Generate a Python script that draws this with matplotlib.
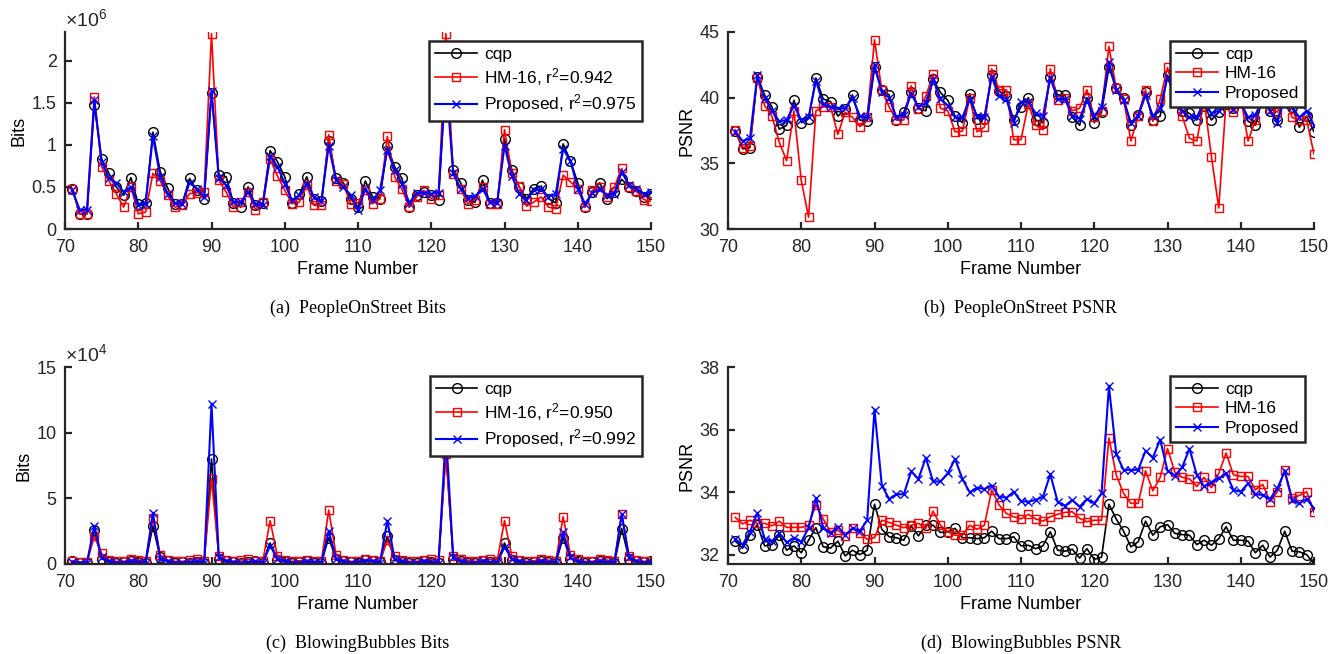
import numpy as np
import matplotlib
matplotlib.use('Agg')
import matplotlib.pyplot as plt

# ── Data (frames 71..150) ─────────────────────────────────────────
frames = np.arange(71, 151)

# PeopleOnStreet bits (x1e6)
pos_bits_cqp = [0.48, 0.18, 0.18, 1.47, 0.83, 0.66, 0.50, 0.40, 0.61, 0.30,
                0.31, 1.15, 0.68, 0.49, 0.30, 0.30, 0.60, 0.46, 0.36, 1.62,
                0.64, 0.62, 0.31, 0.26, 0.50, 0.28, 0.31, 0.93, 0.80, 0.62,
                0.31, 0.41, 0.62, 0.36, 0.33, 1.05, 0.60, 0.55, 0.36, 0.26,
                0.57, 0.38, 0.36, 0.98, 0.74, 0.60, 0.26, 0.40, 0.44, 0.40,
                0.35, 1.85, 0.70, 0.55, 0.34, 0.32, 0.58, 0.31, 0.31, 1.07,
                0.70, 0.50, 0.36, 0.48, 0.51, 0.36, 0.31, 1.01, 0.81, 0.55,
                0.26, 0.44, 0.55, 0.36, 0.44, 0.59, 0.50, 0.45, 0.38, 0.42]
pos_bits_hm = [0.48, 0.18, 0.18, 1.57, 0.74, 0.57, 0.42, 0.26, 0.50, 0.18,
               0.20, 0.66, 0.57, 0.40, 0.26, 0.28, 0.42, 0.43, 0.44, 2.32,
               0.58, 0.44, 0.26, 0.32, 0.44, 0.23, 0.32, 0.83, 0.63, 0.46,
               0.30, 0.32, 0.52, 0.28, 0.28, 1.12, 0.57, 0.53, 0.30, 0.31,
               0.46, 0.30, 0.36, 1.10, 0.62, 0.47, 0.26, 0.38, 0.46, 0.36,
               0.40, 2.32, 0.65, 0.48, 0.30, 0.35, 0.50, 0.30, 0.30, 1.18,
               0.66, 0.51, 0.27, 0.32, 0.38, 0.26, 0.24, 0.64, 0.56, 0.48,
               0.26, 0.46, 0.50, 0.38, 0.50, 0.72, 0.50, 0.45, 0.35, 0.33]
pos_bits_prop = [0.46, 0.23, 0.23, 1.53, 0.80, 0.60, 0.55, 0.44, 0.50, 0.28,
                 0.30, 1.10, 0.62, 0.42, 0.31, 0.30, 0.55, 0.48, 0.38, 1.64,
                 0.60, 0.52, 0.32, 0.32, 0.44, 0.30, 0.28, 0.87, 0.74, 0.54,
                 0.34, 0.40, 0.54, 0.38, 0.33, 0.99, 0.58, 0.50, 0.40, 0.22,
                 0.48, 0.34, 0.46, 0.94, 0.70, 0.54, 0.31, 0.43, 0.43, 0.42,
                 0.43, 1.80, 0.66, 0.48, 0.37, 0.39, 0.48, 0.32, 0.31, 0.99,
                 0.63, 0.42, 0.34, 0.46, 0.47, 0.38, 0.42, 0.95, 0.81, 0.48,
                 0.30, 0.43, 0.47, 0.40, 0.42, 0.68, 0.52, 0.48, 0.42, 0.44]

# PeopleOnStreet PSNR (dB)
pos_psnr_cqp = [37.5, 36.1, 36.2, 41.6, 40.2, 39.3, 37.6, 37.9, 39.8, 38.1,
                38.4, 41.5, 39.9, 39.7, 38.6, 39.1, 40.2, 38.3, 38.2, 42.3,
                40.6, 40.2, 38.3, 38.9, 40.4, 39.2, 39.0, 41.4, 40.4, 39.8,
                38.6, 38.1, 40.3, 38.4, 38.4, 41.7, 40.5, 40.1, 38.3, 39.3,
                40.0, 38.3, 38.1, 41.6, 40.2, 40.2, 38.5, 37.9, 40.0, 38.1,
                38.9, 42.3, 40.75, 40.0, 37.9, 38.7, 40.4, 38.3, 38.6, 41.7,
                40.0, 39.0, 38.8, 38.3, 39.4, 38.3, 38.9, 39.5, 39.2, 39.8,
                38.2, 37.9, 40.0, 39.0, 38.3, 40.2, 39.3, 37.75, 38.6, 37.4]
pos_psnr_hm = [37.55, 36.2, 36.3, 41.5, 39.4, 38.6, 36.6, 35.2, 39.0, 33.7,
               30.9, 39.0, 39.3, 39.3, 37.2, 38.9, 38.5, 37.8, 38.5, 44.4,
               40.55, 39.3, 38.3, 38.3, 40.9, 39.1, 40.1, 41.8, 39.2, 39.0,
               37.4, 37.45, 40.0, 37.4, 37.75, 42.2, 40.6, 40.6, 36.8, 36.8,
               39.5, 37.9, 37.55, 42.2, 39.8, 40.0, 39.0, 39.2, 40.6, 38.5,
               39.0, 43.9, 40.7, 39.9, 36.7, 38.6, 40.6, 38.2, 39.9, 42.3,
               40.2, 38.6, 36.9, 36.7, 39.8, 35.5, 31.6, 39.8, 38.9, 40.0,
               36.7, 38.3, 40.2, 39.1, 38.9, 40.3, 38.5, 38.3, 38.3, 35.7]
pos_psnr_prop = [37.4, 36.7, 36.9, 41.7, 40.0, 39.0, 38.2, 38.3, 39.4, 38.3,
                 38.5, 41.3, 39.5, 39.3, 39.2, 39.2, 40.0, 38.6, 38.5, 42.5,
                 40.4, 40.0, 38.5, 38.7, 40.3, 39.3, 39.6, 41.4, 39.9, 39.4,
                 38.5, 38.5, 39.9, 38.6, 38.5, 41.6, 40.1, 39.9, 38.1, 39.7,
                 39.7, 38.8, 38.6, 41.5, 39.9, 39.9, 38.6, 38.4, 39.8, 38.6,
                 39.3, 42.7, 40.55, 39.8, 38.1, 38.6, 40.2, 38.6, 39.2, 41.6,
                 40.1, 39.0, 38.5, 38.5, 39.7, 38.8, 39.0, 39.7, 39.1, 39.6,
                 38.5, 38.7, 39.9, 39.0, 38.1, 40.1, 39.3, 38.5, 39.0, 37.9]

# BlowingBubbles bits (x1e4)
bb_bits_cqp = [0.2, 0.1, 0.1, 2.6, 0.4, 0.15, 0.1, 0.15, 0.2, 0.15,
               0.1, 2.9, 0.5, 0.2, 0.1, 0.15, 0.1, 0.15, 0.1, 8.0,
               0.4, 0.2, 0.15, 0.1, 0.15, 0.2, 0.1, 1.6, 0.3, 0.2,
               0.1, 0.15, 0.2, 0.1, 0.1, 2.0, 0.4, 0.2, 0.15, 0.1,
               0.3, 0.2, 0.15, 2.1, 0.3, 0.15, 0.1, 0.1, 0.2, 0.15,
               0.1, 8.6, 0.4, 0.2, 0.1, 0.1, 0.2, 0.15, 0.1, 1.6,
               0.3, 0.2, 0.1, 0.15, 0.2, 0.15, 0.1, 2.0, 0.4, 0.2,
               0.1, 0.15, 0.2, 0.15, 0.1, 2.7, 0.4, 0.2, 0.15, 0.2]
bb_bits_hm = [0.25, 0.15, 0.15, 2.1, 0.8, 0.3, 0.2, 0.2, 0.35, 0.3,
              0.2, 3.5, 0.7, 0.3, 0.2, 0.2, 0.3, 0.4, 0.2, 6.5,
              0.6, 0.3, 0.2, 0.3, 0.35, 0.25, 0.2, 3.3, 0.6, 0.3,
              0.2, 0.25, 0.3, 0.2, 0.2, 4.1, 0.7, 0.3, 0.2, 0.2,
              0.35, 0.3, 0.2, 1.8, 0.6, 0.3, 0.2, 0.2, 0.3, 0.35,
              0.3, 8.4, 0.6, 0.4, 0.25, 0.2, 0.3, 0.35, 0.25, 3.3,
              0.6, 0.3, 0.2, 0.25, 0.35, 0.3, 0.2, 3.6, 0.7, 0.35,
              0.2, 0.2, 0.35, 0.3, 0.2, 3.8, 0.6, 0.3, 0.2, 0.25]
bb_bits_prop = [0.15, 0.1, 0.1, 2.9, 0.5, 0.2, 0.1, 0.1, 0.2, 0.15,
                0.1, 3.9, 0.4, 0.2, 0.1, 0.1, 0.15, 0.2, 0.1, 12.2,
                0.5, 0.25, 0.15, 0.1, 0.15, 0.2, 0.1, 1.4, 0.4, 0.2,
                0.1, 0.1, 0.2, 0.15, 0.1, 2.5, 0.4, 0.2, 0.1, 0.15,
                0.25, 0.2, 0.1, 3.3, 0.4, 0.2, 0.1, 0.1, 0.2, 0.15,
                0.1, 10.0, 0.5, 0.25, 0.1, 0.1, 0.2, 0.15, 0.1, 1.3,
                0.4, 0.2, 0.1, 0.1, 0.2, 0.15, 0.1, 2.4, 0.5, 0.2,
                0.1, 0.1, 0.2, 0.15, 0.1, 3.8, 0.5, 0.2, 0.1, 0.15]

# BlowingBubbles PSNR (dB)
bb_psnr_cqp = [32.43, 32.21, 32.64, 32.96, 32.28, 32.32, 32.62, 32.14, 32.28, 32.06,
               32.46, 32.86, 32.25, 32.21, 32.43, 31.96, 32.14, 32.00, 32.14, 33.61,
               32.81, 32.57, 32.54, 32.46, 32.92, 32.60, 32.94, 32.94, 32.71, 32.73,
               32.84, 32.54, 32.54, 32.51, 32.54, 32.75, 32.51, 32.51, 32.57, 32.28,
               32.30, 32.19, 32.28, 32.73, 32.14, 32.11, 32.17, 31.89, 32.19, 31.85,
               31.92, 33.61, 33.14, 32.75, 32.25, 32.41, 33.07, 32.62, 32.89, 32.96,
               32.68, 32.64, 32.62, 32.32, 32.46, 32.30, 32.51, 32.89, 32.46, 32.46,
               32.43, 32.06, 32.30, 31.92, 32.14, 32.75, 32.11, 32.09, 32.00, 31.71]
bb_psnr_hm = [33.19, 32.98, 33.10, 33.00, 33.00, 32.92, 33.07, 32.87, 32.87, 32.87,
              32.94, 33.59, 33.14, 32.73, 32.78, 32.60, 32.86, 32.68, 32.49, 32.54,
              33.10, 33.03, 32.94, 32.86, 32.94, 33.00, 32.84, 33.39, 32.94, 32.73,
              32.62, 32.62, 32.94, 32.81, 32.94, 34.07, 33.59, 33.32, 33.21, 33.14,
              33.29, 33.14, 33.07, 33.21, 33.29, 33.35, 33.37, 33.16, 33.05, 33.10,
              33.10, 35.73, 34.55, 33.96, 33.64, 33.64, 34.68, 34.04, 34.47, 35.39,
              34.64, 34.47, 34.42, 34.18, 34.47, 34.14, 34.60, 35.25, 34.55, 34.50,
              34.50, 34.07, 34.25, 33.69, 34.01, 34.71, 33.82, 33.89, 34.01, 33.35]
bb_psnr_prop = [32.49, 32.32, 32.73, 33.34, 32.51, 32.43, 32.68, 32.39, 32.54, 32.41,
                32.86, 33.80, 32.86, 32.68, 32.89, 32.62, 32.84, 32.75, 33.10, 36.64,
                34.21, 33.78, 33.93, 33.93, 34.66, 34.42, 35.10, 34.34, 34.34, 34.60,
                35.06, 34.42, 33.99, 34.14, 34.10, 34.21, 33.85, 33.82, 34.01, 33.71,
                33.69, 33.75, 33.85, 34.57, 33.69, 33.56, 33.75, 33.53, 33.78, 33.64,
                33.96, 37.39, 35.22, 34.71, 34.71, 34.71, 35.32, 35.10, 35.68, 34.68,
                34.53, 34.79, 35.39, 34.55, 34.18, 34.32, 34.44, 34.60, 34.07, 34.01,
                34.28, 33.93, 33.91, 33.78, 34.12, 34.66, 33.75, 33.64, 33.78, 33.48]

# ── Style ─────────────────────────────────────────────────────────
plt.rcParams.update({
    "font.family": ["Liberation Sans", "DejaVu Sans"],
    "font.size": 13,
    "mathtext.fontset": "custom",
    "mathtext.rm": "Liberation Sans",
    "mathtext.it": "Liberation Sans:italic",
    "axes.linewidth": 1.6,
    "axes.edgecolor": "#262626",
    "xtick.color": "#262626",
    "ytick.color": "#262626",
    "xtick.direction": "in",
    "ytick.direction": "in",
    "xtick.major.size": 5,
    "ytick.major.size": 5,
    "xtick.major.width": 1.6,
    "ytick.major.width": 1.6,
    "xtick.major.pad": 7,
    "ytick.major.pad": 6,
})

W, H = 1342, 654
fig = plt.figure(figsize=(W / 100, H / 100), dpi=100)


def make_ax(x0, y0, x1, y1):
    # pixel box -> figure fraction
    return fig.add_axes([x0 / W, 1 - y1 / H, (x1 - x0) / W, (y1 - y0) / H])


def draw(ax, cqp, hm, prop, labels, ylim, yticks, ylabel, caption, mult=None):
    ax.plot(frames, cqp, "-o", color="k", lw=1.2, ms=7, mfc="none",
            mew=1.0, label=labels[0])
    ax.plot(frames, hm, "-s", color="#ff0000", lw=1.2, ms=5.5, mfc="none",
            mew=1.0, label=labels[1])
    ax.plot(frames, prop, "-x", color="#0000ff", lw=1.5, ms=5.5,
            mew=1.0, label=labels[2])
    ax.set_xlim(70, 150)
    ax.set_xticks(np.arange(70, 151, 10))
    ax.set_ylim(*ylim)
    ax.set_yticks(yticks)
    ax.set_yticklabels([f"{v:g}" for v in yticks])
    ax.spines["top"].set_visible(False)
    ax.spines["right"].set_visible(False)
    ax.set_xlabel("Frame Number", labelpad=4)
    ax.set_ylabel(ylabel, labelpad=3)
    if mult is not None:
        ax.text(0.0, 1.01, mult, transform=ax.transAxes, ha="left",
                va="bottom", fontsize=14, color="#262626")
    leg = ax.legend(loc="upper right", fancybox=False, framealpha=1,
                    edgecolor="#262626", handlelength=2.4, borderpad=0.35,
                    labelspacing=0.25, handletextpad=0.4,
                    borderaxespad=0.5, fontsize=12.5)
    leg.get_frame().set_linewidth(1.8)
    ax.text(0.5, -0.36, caption, transform=ax.transAxes, ha="center",
            va="top", fontsize=13, family=["Liberation Serif"])


ax_a = make_ax(65, 32, 651, 229)
draw(ax_a, pos_bits_cqp, pos_bits_hm, pos_bits_prop,
     ["cqp", "HM-16, r$^2$=0.942", "Proposed, r$^2$=0.975"],
     (0, 2.34), [0, 0.5, 1, 1.5, 2], "Bits",
     "(a)  PeopleOnStreet Bits", mult=r"$\times10^6$")

ax_b = make_ax(728, 32, 1314, 229)
draw(ax_b, pos_psnr_cqp, pos_psnr_hm, pos_psnr_prop,
     ["cqp", "HM-16", "Proposed"],
     (30, 45), [30, 35, 40, 45], "PSNR",
     "(b)  PeopleOnStreet PSNR")

ax_c = make_ax(65, 367, 651, 564)
draw(ax_c, bb_bits_cqp, bb_bits_hm, bb_bits_prop,
     ["cqp", "HM-16, r$^2$=0.950", "Proposed, r$^2$=0.992"],
     (0, 15), [0, 5, 10, 15], "Bits",
     "(c)  BlowingBubbles Bits", mult=r"$\times10^4$")

ax_d = make_ax(728, 367, 1314, 564)
draw(ax_d, bb_psnr_cqp, bb_psnr_hm, bb_psnr_prop,
     ["cqp", "HM-16", "Proposed"],
     (31.7, 38), [32, 34, 36, 38], "PSNR",
     "(d)  BlowingBubbles PSNR")

fig.savefig("out.png", dpi=100)
